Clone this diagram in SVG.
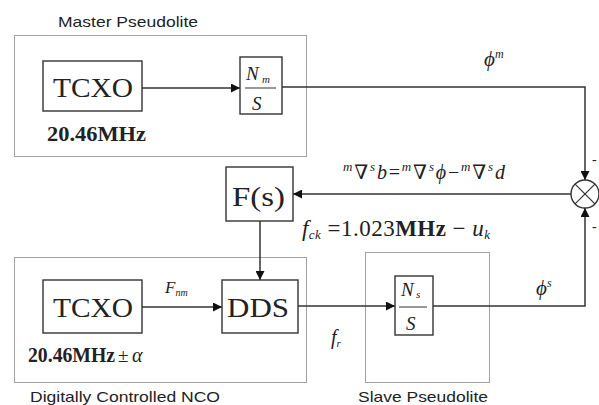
<svg xmlns="http://www.w3.org/2000/svg" width="599" height="405" viewBox="0 0 599 405">
<defs>
<style>
.grp{fill:none;stroke:#444;stroke-width:1;stroke-dasharray:1 1}
.box{fill:#fff;stroke:#333;stroke-width:1.4}
.ln{fill:none;stroke:#333;stroke-width:1.5}
.lbl{font-family:"Liberation Sans",Arial,sans-serif;font-size:15px;fill:#222}
.big{font-family:"Liberation Serif","Times New Roman",serif;font-size:27px;fill:#222}
.bold{font-family:"Liberation Serif","Times New Roman",serif;font-weight:bold;fill:#222}
.m{font-family:"Liberation Serif","DejaVu Serif","Times New Roman",serif;fill:#222}
.it{font-style:italic}
</style>
<marker id="ah" viewBox="0 0 10 10" refX="10" refY="5" markerWidth="9" markerHeight="9" markerUnits="userSpaceOnUse" orient="auto">
<path d="M0,0 L10,5 L0,10 z" fill="#111"/>
</marker>
</defs>
<rect width="599" height="405" fill="#fff"/>

<g id="master-pseudolite">
<rect class="grp" x="14.5" y="35.5" width="292" height="121"/>
<text class="lbl" x="58" y="27" textLength="140" lengthAdjust="spacingAndGlyphs">Master Pseudolite</text>
</g>
<g id="nco-group">
<rect class="grp" x="14.5" y="257.5" width="292" height="125"/>
<text class="lbl" x="30" y="402" textLength="190" lengthAdjust="spacingAndGlyphs">Digitally Controlled NCO</text>
</g>
<g id="slave-pseudolite">
<rect class="grp" x="365.5" y="252.5" width="124" height="130"/>
<text class="lbl" x="358" y="402" textLength="130" lengthAdjust="spacingAndGlyphs">Slave Pseudolite</text>
</g>

<g id="connectors">
<line class="ln" x1="142" y1="88" x2="240" y2="88" marker-end="url(#ah)"/>
<polyline class="ln" points="282,87 585,87 585,180" marker-end="url(#ah)"/>
<line class="ln" x1="571" y1="194" x2="293" y2="194" marker-end="url(#ah)"/>
<line class="ln" x1="260" y1="221" x2="260" y2="280" marker-end="url(#ah)"/>
<line class="ln" x1="142" y1="307" x2="222" y2="307" marker-end="url(#ah)"/>
<line class="ln" x1="298" y1="306" x2="395" y2="306" marker-end="url(#ah)"/>
<polyline class="ln" points="433,306 585,306 585,208" marker-end="url(#ah)"/>
</g>

<g id="tcxo-master">
<rect class="box" x="43" y="61" width="99" height="50"/>
<text class="big" x="53" y="97" textLength="80" lengthAdjust="spacingAndGlyphs">TCXO</text>
<text class="bold" x="47" y="141" font-size="21" textLength="99" lengthAdjust="spacingAndGlyphs">20.46MHz</text>
</g>

<g id="divider-master">
<rect class="box" x="240" y="57" width="42" height="57"/>
<text class="m it" x="246" y="80" font-size="19">N</text>
<text class="m it" x="262" y="83" font-size="11">m</text>
<line x1="245" y1="88" x2="276" y2="88" stroke="#333" stroke-width="1"/>
<text class="m it" x="252" y="110" font-size="19">S</text>
</g>

<g id="mixer">
<circle cx="585" cy="194" r="14" fill="#fff" stroke="#333" stroke-width="1.4"/>
<line x1="575.1" y1="184.1" x2="594.9" y2="203.9" stroke="#333" stroke-width="1.2"/>
<line x1="594.9" y1="184.1" x2="575.1" y2="203.9" stroke="#333" stroke-width="1.2"/>
<text class="m" x="592" y="164" font-size="14">-</text>
<text class="m" x="592" y="231" font-size="14">-</text>
</g>

<g id="filter">
<rect class="box" x="226" y="167" width="67" height="54"/>
<text class="big" x="232" y="206" textLength="53" lengthAdjust="spacingAndGlyphs">F(s)</text>
</g>

<g id="tcxo-nco">
<rect class="box" x="43" y="280" width="99" height="53"/>
<text class="big" x="53" y="317" textLength="80" lengthAdjust="spacingAndGlyphs">TCXO</text>
<text class="bold" x="28" y="362" font-size="20" textLength="87" lengthAdjust="spacingAndGlyphs">20.46MHz</text>
<text class="m" x="118" y="362" font-size="19">±</text>
<text class="m it" x="132" y="362" font-size="20">α</text>
</g>

<g id="dds">
<rect class="box" x="222" y="280" width="76" height="53"/>
<text class="big" x="227" y="317" textLength="62" lengthAdjust="spacingAndGlyphs">DDS</text>
</g>

<g id="divider-slave">
<rect class="box" x="395" y="276" width="38" height="59"/>
<text class="m it" x="401" y="296" font-size="19">N</text>
<text class="m it" x="416" y="298" font-size="11">s</text>
<line x1="399" y1="307" x2="427" y2="307" stroke="#333" stroke-width="1"/>
<text class="m it" x="406" y="330" font-size="19">S</text>
</g>

<g id="labels">
<text class="m it" x="484" y="66" font-size="21">ϕ<tspan font-size="12" dy="-8">m</tspan></text>
<text class="m it" x="536" y="295" font-size="21">ϕ<tspan font-size="12" dy="-8">s</tspan></text>
<text class="m it" x="165" y="293" font-size="17">F<tspan font-size="10" dy="3">nm</tspan></text>
<text class="m it" x="331" y="344" font-size="20">f<tspan font-size="11" dy="3">r</tspan></text>
<text class="m" x="343" y="179" font-size="20" textLength="162" lengthAdjust="spacing"><tspan class="it" font-size="13" dy="-8">m</tspan><tspan dy="8">∇</tspan><tspan class="it" font-size="13" dy="-8">s</tspan><tspan class="it" dy="8">b</tspan>=<tspan class="it" font-size="13" dy="-8">m</tspan><tspan dy="8">∇</tspan><tspan class="it" font-size="13" dy="-8">s</tspan><tspan class="it" dy="8">ϕ</tspan>−<tspan class="it" font-size="13" dy="-8">m</tspan><tspan dy="8">∇</tspan><tspan class="it" font-size="13" dy="-8">s</tspan><tspan class="it" dy="8">d</tspan></text>
<text class="m" x="302" y="236" font-size="23" textLength="188" lengthAdjust="spacing"><tspan class="it">f</tspan><tspan class="it" font-size="13" dy="3">ck</tspan><tspan dy="-3"> =1.023</tspan><tspan font-weight="bold">MHz</tspan> − <tspan class="it">u</tspan><tspan class="it" font-size="13" dy="3">k</tspan></text>
</g>
</svg>
